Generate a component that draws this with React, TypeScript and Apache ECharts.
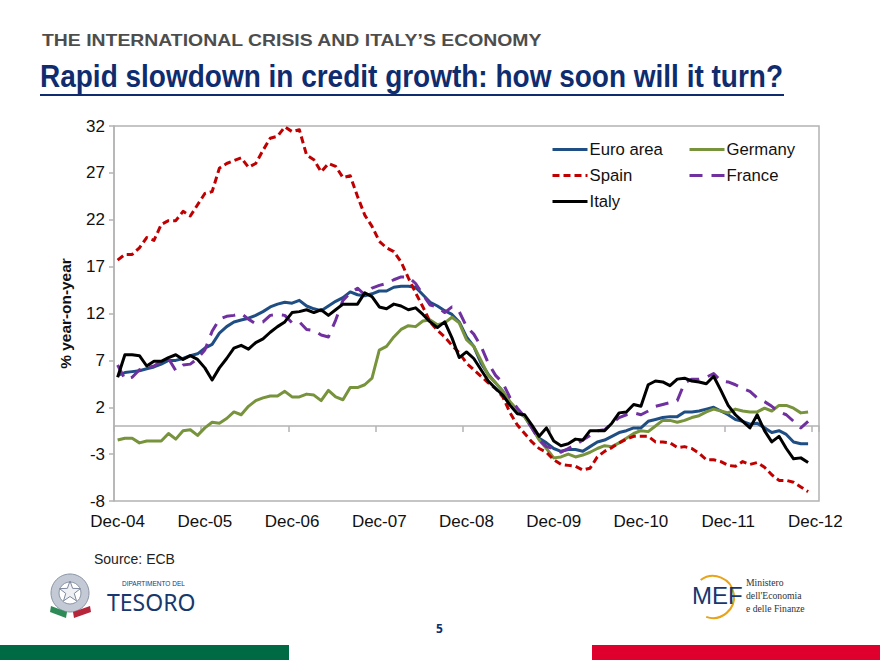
import React, { useEffect, useRef } from "react";
import * as echarts from "echarts";

const yearLabels = ["Dec-04", "Dec-05", "Dec-06", "Dec-07", "Dec-08", "Dec-09", "Dec-10", "Dec-11", "Dec-12"];
const yTicks = [-8, -3, 2, 7, 12, 17, 22, 27, 32];

const euroArea = [5.4,5.7,5.8,5.9,6.1,6.3,6.6,7,7,7.2,7.5,7.7,8.3,8.7,9.9,10.6,11.1,11.3,11.5,11.8,12.2,12.7,13,13.2,13.1,13.4,12.8,12.5,12.3,12.8,13.3,13.7,14.3,14,13.9,14.1,14.4,14.4,14.8,14.9,14.9,14.8,14,13.2,12.8,12.3,11.9,11.1,9.5,8.5,6.7,5.5,4.6,3.7,2.4,1.5,1,-0.2,-1.3,-1.8,-2.4,-2.7,-2.5,-2.5,-2.7,-2.2,-1.7,-1.5,-1.1,-0.7,-0.5,-0.2,-0.2,0.5,0.7,0.9,1,1,1.5,1.5,1.6,1.8,2,1.6,1.2,0.7,0.5,0.2,0.3,-0.2,-0.7,-0.5,-0.9,-1.7,-1.9,-1.9];
const germany = [-1.5,-1.3,-1.3,-1.8,-1.6,-1.6,-1.6,-0.8,-1.4,-0.5,-0.4,-1,-0.2,0.4,0.3,0.8,1.5,1.2,2.1,2.7,3,3.2,3.2,3.7,3.1,3.1,3.4,3.3,2.7,3.8,3.1,2.8,4.1,4.1,4.4,5.1,8.1,8.5,9.5,10.3,10.7,10.6,11.2,11.3,10.8,11,11.6,11,9.2,8.5,7,5.4,4.6,3.7,2.6,1.7,1,-0.2,-1.5,-2.4,-3.4,-3.3,-3,-3.3,-3.1,-2.8,-2.4,-2.1,-2.2,-1.8,-1.3,-0.8,-0.5,-0.6,0,0.6,0.6,0.4,0.6,0.9,1.1,1.5,1.8,1.6,1.4,1.8,1.6,1.5,1.5,1.9,1.6,2.2,2.2,1.9,1.4,1.5];
const spain = [17.7,18.3,18.3,19,20.1,19.8,21.5,21.9,21.9,22.9,22.4,23.6,24.8,25,27.5,28,28.3,28.6,27.6,28,29.4,30.7,30.9,31.9,31.4,31.6,28.9,28.4,27.1,28,27.7,26.5,26.7,24.5,22.5,21.3,19.7,19,18.6,17.5,15.8,14.2,12.7,11.1,10.2,9.5,8.6,7.8,6.7,6,5.3,4.6,4,3.1,1.4,0.1,-0.8,-1.7,-2.4,-2.8,-3.6,-4.1,-4.2,-4.3,-4.7,-4.5,-3.3,-2.7,-2.3,-1.8,-1.4,-1.1,-1.1,-1.1,-1.7,-1.7,-1.8,-2.3,-2.2,-2.4,-2.9,-3.6,-3.6,-3.8,-4.2,-4.3,-3.8,-4.1,-3.9,-4.4,-5.2,-5.8,-5.8,-6,-6.5,-7];
const france = [6.5,5,5.2,6,6.2,6.4,6.9,7.2,5.9,6.5,6.6,7.2,8.1,10.1,11.4,11.7,11.8,12,11.4,10.9,11.1,11.8,11.9,11.8,11,11.1,10.3,10.2,9.7,9.5,11.3,13.4,14.2,14.7,14,14.7,15,15.2,15.6,15.9,15.9,15.2,14,12.9,12.7,12.1,12.7,12.2,10.6,9.8,8.5,6.7,5.4,4.6,3,1.9,1,-0.2,-1.5,-2.2,-2.4,-2.8,-2.4,-2,-1.5,-1,-0.5,-0.4,0.3,0.9,1.2,1.4,1.2,1.6,2.1,2.3,2.5,2.7,4.6,5,5,5.2,5.6,4.8,4.7,4.4,4,3.7,3,2.6,2.1,1.5,1.2,0.5,-0.2,0.5];
const italy = [5.2,7.6,7.6,7.5,6.4,6.9,6.9,7.3,7.6,7.1,7.5,7.1,6.2,4.9,6.2,7.2,8.3,8.6,8.2,8.9,9.3,10,10.6,11.1,12.1,12.2,12.4,12.1,12.4,11.8,12.4,13,13,13,14.2,13.8,12.7,12.5,13,12.8,12.4,12.6,11.9,11.1,10.5,11.1,9.4,7.3,7.9,7.2,6,4.8,4,3.3,2.2,1.3,1.2,0.1,-1.1,-0.2,-1.6,-2.1,-1.9,-1.4,-1.5,-0.5,-0.5,-0.5,0.3,1.4,1.5,2.3,2.1,4.4,4.8,4.7,4.3,5,5.1,4.8,4.7,4.5,5.3,3.8,2.2,1.2,0.5,-0.2,1.2,-0.5,-1.7,-1.1,-2.4,-3.5,-3.4,-3.9];

const monthsPerYear = 12;
const categories: string[] = [];
yearLabels.forEach((label) => {
  categories.push(label);
  if (label !== "Dec-12") for (let m = 1; m < monthsPerYear; m++) categories.push(label + "+" + m);
});

const FONT = "'Liberation Sans', Arial, sans-serif";
const NAVY = "#0f2d6e";
const AXIS = "#b3b3b3";

const legendPos = [
  { name: "Euro area", left: 551, top: 141 },
  { name: "Germany", left: 688, top: 141 },
  { name: "Spain", left: 551, top: 167 },
  { name: "France", left: 688, top: 167 },
  { name: "Italy", left: 551, top: 193 },
];

function star(cx: number, cy: number, R: number, r: number) {
  const pts: number[][] = [];
  for (let i = 0; i < 10; i++) {
    const a = -Math.PI / 2 + (i * Math.PI) / 5;
    const q = i % 2 ? r : R;
    pts.push([cx + q * Math.cos(a), cy + q * Math.sin(a)]);
  }
  return pts;
}

export default function App() {
  const ref = useRef<HTMLDivElement>(null);
  useEffect(() => {
    const chart = echarts.init(ref.current!, null, { renderer: "svg", width: 880, height: 660 });
    const line = (name: string, data: number[], color: string, type: any, z: number) => ({
      name,
      type: "line",
      data,
      showSymbol: false,
      symbol: "none",
      z,
      lineStyle: { color, width: 3, type, cap: "butt", join: "round" },
      itemStyle: { color },
    });
    chart.setOption({
      animation: false,
      backgroundColor: "#ffffff",
      grid: { left: 114, top: 126, width: 705, height: 375, show: true, borderColor: AXIS, borderWidth: 1.5, backgroundColor: "transparent" },
      legend: legendPos.map((l) => ({
        data: [l.name],
        left: l.left,
        top: l.top,
        itemWidth: 35,
        itemHeight: 16,
        itemGap: 0,
        padding: 0,
        itemStyle: { opacity: 0 },
        lineStyle: { width: 3 },
        textStyle: { fontFamily: FONT, fontSize: 16.7, color: "#111", padding: [0, 0, 0, -3] },
      })),
      xAxis: [
        {
          type: "category",
          data: categories,
          boundaryGap: true,
          axisLine: { onZero: true, lineStyle: { color: AXIS, width: 1.5 } },
          axisTick: { show: true, interval: 11, length: 6, lineStyle: { color: AXIS, width: 1.5 } },
          axisLabel: { show: false },
        },
        {
          type: "category",
          data: categories,
          position: "bottom",
          boundaryGap: true,
          axisLine: { show: false, onZero: false },
          axisTick: { show: false },
          axisLabel: { show: true, interval: 11, fontFamily: FONT, fontSize: 17, color: "#111", margin: 12, hideOverlap: false, showMaxLabel: true, showMinLabel: true },
        },
      ],
      yAxis: {
        type: "value",
        min: -8,
        max: 32,
        name: "% year-on-year",
        nameLocation: "middle",
        nameGap: 41,
        nameTextStyle: { fontFamily: FONT, fontSize: 15.4, fontWeight: "bold", color: "#111" },
        splitLine: { show: false },
        axisLine: { show: true, onZero: false, lineStyle: { color: AXIS, width: 1.5 } },
        axisTick: { show: true, length: 5, customValues: yTicks, lineStyle: { color: AXIS, width: 1.5 } },
        axisLabel: { customValues: yTicks, fontFamily: FONT, fontSize: 17, color: "#111", margin: 9 },
      },
      series: [
        line("Euro area", euroArea, "#1f4e84", "solid", 2),
        line("Germany", germany, "#77933c", "solid", 3),
        line("Spain", spain, "#c00000", [7, 4], 4),
        line("France", france, "#7030a0", [13, 9], 5),
        line("Italy", italy, "#000000", "solid", 6),
      ],
      graphic: [
        { type: "text", x: 42, y: 32, scaleX: 1.175, style: { text: "THE INTERNATIONAL CRISIS AND ITALY\u2019S ECONOMY", fontFamily: FONT, fontSize: 16.5, fontWeight: "bold", fill: "#4d4d4d" } },
        { type: "text", x: 40, y: 60, scaleX: 0.875, style: { text: "Rapid slowdown in credit growth: how soon will it turn?", fontFamily: FONT, fontSize: 32, fontWeight: "bold", fill: NAVY } },
        { type: "rect", shape: { x: 40, y: 94, width: 744, height: 2 }, style: { fill: NAVY } },
        { type: "text", left: 94, top: 552, style: { text: "Source: ECB", fontFamily: FONT, fontSize: 14, fill: "#222" } },
        { type: "ring", shape: { cx: 70, cy: 593, r: 19, r0: 11 }, style: { fill: "#c3cad6", stroke: "#8a93a5", lineWidth: 1 } },
        { type: "polygon", shape: { points: star(70, 592, 11, 4.5) }, style: { fill: "#eef0f4", stroke: "#7f899c", lineWidth: 1 } },
        { type: "polygon", shape: { points: [[51, 606], [67, 612], [66, 618], [50, 612]] }, style: { fill: "#2e8b57" } },
        { type: "polygon", shape: { points: [[73, 612], [90, 606], [91, 612], [74, 618]] }, style: { fill: "#b5263a" } },
        { type: "text", left: 122, top: 580, style: { text: "DIPARTIMENTO DEL", fontFamily: FONT, fontSize: 6.5, fill: "#16386f" } },
        { type: "text", left: 107, top: 590, style: { text: "TESORO", fontFamily: "'Noto Sans', sans-serif", fontSize: 23, fill: "#16386f", letterSpacing: 2.5 } },
        { type: "arc", shape: { cx: 713, cy: 597, r: 21, startAngle: -2.2, endAngle: 1.9, clockwise: true }, style: { stroke: "#e8a317", lineWidth: 2, fill: "none" } },
        { type: "text", left: 692, top: 583, style: { text: "MEF", fontFamily: FONT, fontSize: 24, fill: "#16386f" } },
        { type: "text", left: 746, top: 577, style: { text: "Ministero", fontFamily: "'Liberation Serif', serif", fontSize: 9.7, fill: "#333" } },
        { type: "text", left: 746, top: 590, style: { text: "dell'Economia", fontFamily: "'Liberation Serif', serif", fontSize: 9.7, fill: "#333" } },
        { type: "text", left: 746, top: 603, style: { text: "e delle Finanze", fontFamily: "'Liberation Serif', serif", fontSize: 9.7, fill: "#333" } },
        { type: "text", left: 436, top: 622, style: { text: "5", fontFamily: "'Open Sans', sans-serif", fontSize: 12, fontWeight: "bold", fill: NAVY } },
        { type: "rect", shape: { x: 0, y: 645, width: 289, height: 15 }, style: { fill: "#006a44" } },
        { type: "rect", shape: { x: 592, y: 645, width: 288, height: 15 }, style: { fill: "#e0002d" } },
      ],
    });
    return () => chart.dispose();
  }, []);
  return <div ref={ref} style={{ position: "fixed", left: 0, top: 0, width: 880, height: 660 }} />;
}
